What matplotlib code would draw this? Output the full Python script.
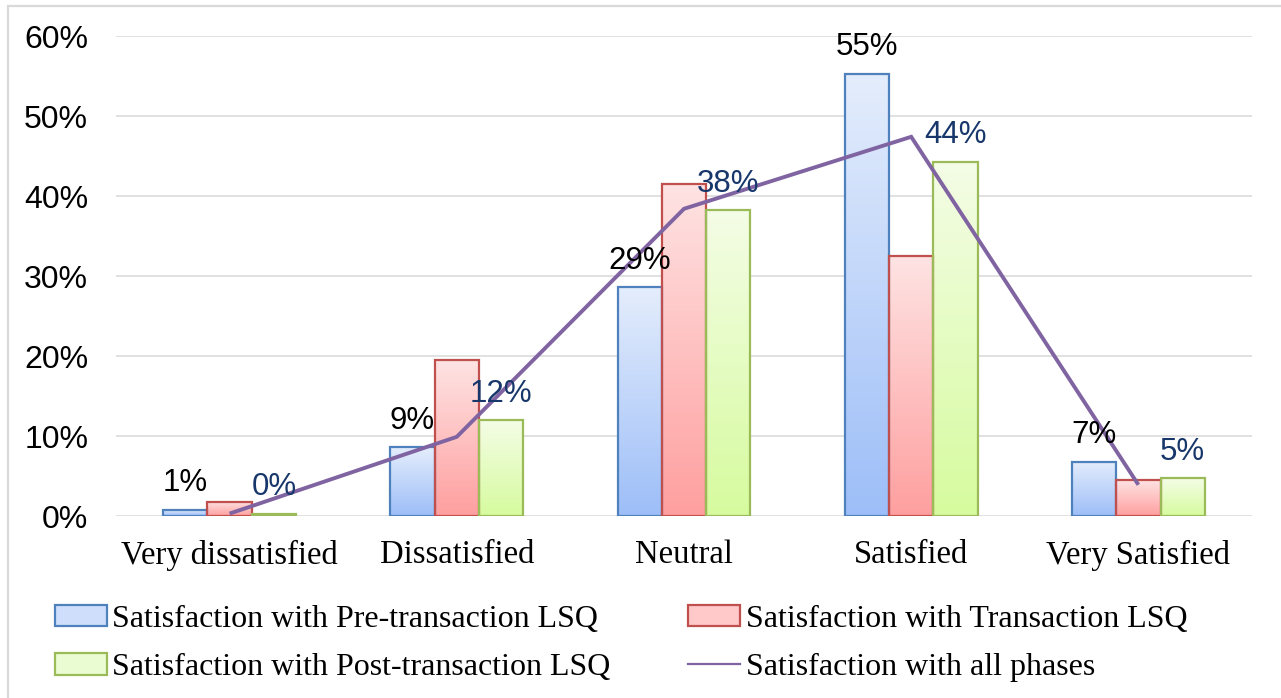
import numpy as np
import matplotlib.pyplot as plt
from matplotlib.colors import LinearSegmentedColormap
from matplotlib.patches import Rectangle
from matplotlib.lines import Line2D
from matplotlib.ticker import FuncFormatter

# Survey responses (share of respondents, %)
categories = ["Very dissatisfied", "Dissatisfied", "Neutral", "Satisfied", "Very Satisfied"]
pre_transaction = [0.8, 8.6, 28.6, 55.3, 6.8]
transaction = [1.8, 19.5, 41.5, 32.5, 4.5]
post_transaction = [0.3, 12.0, 38.2, 44.3, 4.7]
all_phases = [0.3, 9.9, 38.4, 47.4, 3.9]

series_names = [
    "Satisfaction with Pre-transaction LSQ",
    "Satisfaction with Transaction LSQ",
    "Satisfaction with Post-transaction LSQ",
    "Satisfaction with all phases",
]

edge_colors = ["#4f81bd", "#c0504d", "#9bbb59"]
grad_colors = [("#e4edfc", "#9dbef8"), ("#ffe3e3", "#fe9f9f"), ("#f4fde6", "#d6fb9e")]
line_color = "#8064a2"

W, H = 1281, 698
fig = plt.figure(figsize=(W / 100, H / 100), dpi=100)
ax = fig.add_axes([116 / W, 1 - 516 / H, (1252 - 116) / W, (516 - 36) / H])

x = np.arange(len(categories))
bar_w = 0.195
offsets = [-bar_w, 0.0, bar_w]
all_bars = [pre_transaction, transaction, post_transaction]

grad = np.linspace(1, 0, 256).reshape(-1, 1)
for vals, off, ec, (c_top, c_bot) in zip(all_bars, offsets, edge_colors, grad_colors):
    cmap = LinearSegmentedColormap.from_list("g", [c_bot, c_top])
    bars = ax.bar(x + off, vals, width=bar_w, color="none", edgecolor=ec,
                  linewidth=1.6, zorder=3)
    for b in bars:
        x0, y0 = b.get_x(), b.get_y()
        w, h = b.get_width(), b.get_height()
        im = ax.imshow(grad, cmap=cmap, extent=[x0, x0 + w, y0, y0 + h],
                       aspect="auto", origin="upper", zorder=2, interpolation="bicubic")
        im.set_clip_path(b)

ax.set_xlim(-0.5, len(categories) - 0.5)
ax.set_ylim(0, 60)

ax.plot(x, all_phases, color=line_color, linewidth=2.8, zorder=4,
        solid_capstyle="butt", solid_joinstyle="miter")

# Value labels on pre- and post-transaction bars
label_font = dict(fontsize=22.5, family="Liberation Sans", ha="center", va="center", zorder=5)
for xi, v in zip(x, pre_transaction):
    ax.annotate(f"{v:.0f}%", (xi + offsets[0], v), xytext=(0, 19), textcoords="offset points",
                color="black", **label_font)
for xi, v in zip(x, post_transaction):
    ax.annotate(f"{v:.0f}%", (xi + offsets[2], v), xytext=(0, 19), textcoords="offset points",
                color="#17376b", **label_font)

ax.set_yticks(np.arange(0, 61, 10))
ax.yaxis.set_major_formatter(FuncFormatter(lambda v, p: f"{v:.0f}%"))
ax.set_xticks(x)
ax.set_xticklabels(categories, family="Liberation Serif", fontsize=23.5)
for lab in ax.get_yticklabels():
    lab.set_family("Liberation Sans")
    lab.set_fontsize(23)
ax.tick_params(axis="y", length=0, pad=20)
ax.tick_params(axis="x", length=0, pad=17)
ax.grid(axis="y", color="#d9d9d9", linewidth=1.1, zorder=0)
ax.set_axisbelow(True)
for s in ax.spines.values():
    s.set_visible(False)

# Legend (two columns, filled column by column)
handles = [
    Rectangle((0, 0), 1, 1, facecolor="#cfdffb", edgecolor=edge_colors[0], linewidth=1.6),
    Rectangle((0, 0), 1, 1, facecolor="#ffc9c9", edgecolor=edge_colors[1], linewidth=1.6),
    Rectangle((0, 0), 1, 1, facecolor="#eafcd2", edgecolor=edge_colors[2], linewidth=1.6),
    Line2D([0], [0], color=line_color, linewidth=1.6),
]
order = [0, 2, 1, 3]
fig.legend([handles[i] for i in order], [series_names[i] for i in order],
           loc="upper left", bbox_to_anchor=(55 / W, 1 - 605 / H),
           ncol=2, frameon=False, prop={"family": "Liberation Serif", "size": 23},
           handlelength=1.62, handleheight=0.65, handletextpad=0.18,
           columnspacing=2.42, labelspacing=0.6, borderpad=0, borderaxespad=0)

# Chart frame
fig.add_artist(Rectangle((7.5 / W, -0.05), 1.1, 1.05 - 6 / H, transform=fig.transFigure,
                         fill=False, edgecolor="#d9d9d9", linewidth=1.6))

fig.savefig("out.png", dpi=100)
